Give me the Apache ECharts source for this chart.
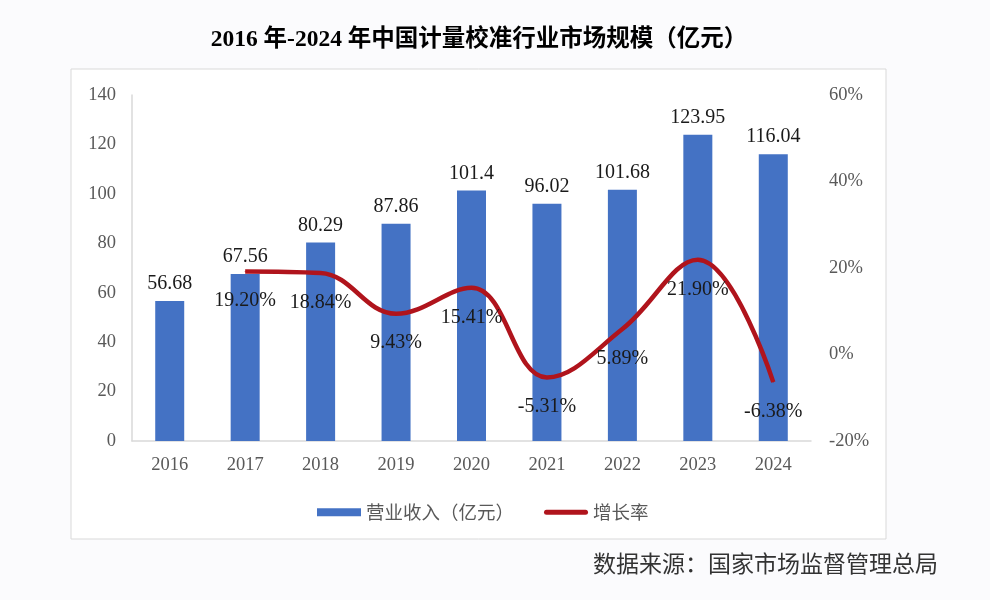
<!DOCTYPE html>
<html>
<head>
<meta charset="utf-8">
<script src="https://cdn.jsdelivr.net/npm/echarts@6/dist/echarts.min.js"></script>
<style>
  html, body { margin: 0; padding: 0; background: #fbfbfd; }
  #main { width: 990px; height: 600px; }
</style>
</head>
<body>
<div id="main"></div>
<script>
var years = ['2016', '2017', '2018', '2019', '2020', '2021', '2022', '2023', '2024'];
var revenue = [56.68, 67.56, 80.29, 87.86, 101.4, 96.02, 101.68, 123.95, 116.04];
var growth = ['-', 19.20, 18.84, 9.43, 15.41, -5.31, 5.89, 21.90, -6.38];

var serif = '"Liberation Serif", "Noto Sans CJK SC", serif';
var sans = '"Noto Sans CJK SC", "Noto Sans", sans-serif';

var chartDom = document.getElementById('main');
var myChart = echarts.init(chartDom);
var option;

option = {
  backgroundColor: '#fbfbfd',
  title: {
    text: '2016 年-2024 年中国计量校准行业市场规模（亿元）',
    left: 474,
    textAlign: 'center',
    top: 23,
    textStyle: {
      fontFamily: serif,
      fontSize: 23.5,
      fontWeight: 'bold',
      color: '#000'
    }
  },
  graphic: [
    {
      type: 'rect',
      shape: { x: 71, y: 69, width: 815, height: 470 },
      style: { fill: '#fff', stroke: '#d9d9d9', lineWidth: 1 },
      z: -10
    },
    {
      type: 'text',
      right: 52,
      top: 552,
      style: {
        text: '数据来源：国家市场监督管理总局',
        fontFamily: sans,
        fontSize: 23,
        fill: '#333'
      }
    }
  ],
  legend: {
    left: 312,
    top: 498,
    itemWidth: 44,
    itemHeight: 8,
    itemGap: 30,
    textStyle: { fontFamily: sans, fontSize: 18.5, color: '#595959' },
    data: [
      { name: '营业收入（亿元）', icon: 'rect' },
      { name: '增长率', icon: 'path://M2.5,0H41.5A2.5,2.5,0,0,1,41.5,5H2.5A2.5,2.5,0,0,1,2.5,0Z', itemStyle: { color: '#b0141c' } }
    ]
  },
  grid: {
    left: 132,
    right: 179,
    top: 95,
    bottom: 159
  },
  xAxis: {
    type: 'category',
    data: years,
    axisLine: { lineStyle: { color: '#d9d9d9', width: 1.5 } },
    axisTick: { show: false },
    axisLabel: {
      fontFamily: serif,
      fontSize: 18.5,
      color: '#595959',
      margin: 15
    }
  },
  yAxis: [
    {
      type: 'value',
      min: 0,
      max: 140,
      interval: 20,
      axisLine: { show: true, lineStyle: { color: '#d9d9d9', width: 1.5 } },
      axisTick: { show: false },
      splitLine: { show: false },
      axisLabel: {
        fontFamily: serif,
        fontSize: 18.5,
        color: '#595959',
        margin: 16
      }
    },
    {
      type: 'value',
      min: -20,
      max: 60,
      interval: 20,
      axisLine: { show: false },
      axisTick: { show: false },
      splitLine: { show: false },
      axisLabel: {
        fontFamily: serif,
        fontSize: 18.5,
        color: '#595959',
        margin: 18,
        formatter: '{value}%'
      }
    }
  ],
  series: [
    {
      name: '营业收入（亿元）',
      type: 'bar',
      data: revenue,
      barWidth: 29,
      itemStyle: { color: '#4472c4' },
      label: {
        show: true,
        position: 'top',
        distance: 7,
        fontFamily: serif,
        fontSize: 20,
        color: '#1a1a1a'
      }
    },
    {
      name: '增长率',
      type: 'line',
      yAxisIndex: 1,
      data: growth,
      smooth: 0.4,
      symbol: 'circle',
      symbolSize: 1,
      showSymbol: true,
      lineStyle: { color: '#b0141c', width: 4.5 },
      itemStyle: { color: '#b0141c' },
      label: {
        show: true,
        position: 'bottom',
        distance: 19,
        fontFamily: serif,
        fontSize: 20,
        color: '#1a1a1a',
        formatter: function (p) {
          var v = Number(p.value);
          return isNaN(v) ? '' : v.toFixed(2) + '%';
        }
      },
      z: 5
    }
  ]
};

option && myChart.setOption(option);
</script>
</body>
</html>
